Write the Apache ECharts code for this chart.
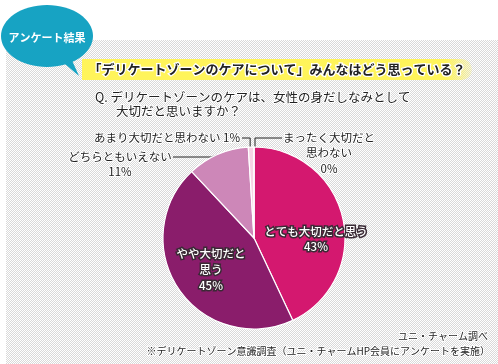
<!DOCTYPE html>
<html><head><meta charset="utf-8">
<script src="https://cdn.jsdelivr.net/npm/echarts@6/dist/echarts.min.js"></script>
<style>
html,body{margin:0;padding:0;background:#fff;}
#wrap{position:relative;width:498px;height:364px;}
#panel{position:absolute;left:6px;top:40px;right:0;bottom:0;
 background:repeating-conic-gradient(#d9d9d9 0 25%,#ffffff 0 50%);background-size:2px 2px;}
#chart{position:absolute;left:0;top:0;width:498px;height:364px;}
</style></head>
<body><div id="wrap"><div id="panel"></div><div id="chart"></div></div>
<script>
const categories = ['とても大切だと思う','やや大切だと思う','どちらともいえない','あまり大切だと思わない','まったく大切だと思わない'];
const values = [43, 45, 11, 1, 0];
const labelTexts = ['とても大切だと思う\n43%','やや大切だと\n思う\n45%','どちらともいえない\n11%','あまり大切だと思わない 1%','まったく大切だと\n思わない\n0%'];
const colors = ['#d4186f','#8a1d6b','#cd87b8','#f6d3e4','#ffffff'];
const titleText = '「デリケートゾーンのケアについて」みんなはどう思っている？';
const qLine1 = 'Q. デリケートゾーンのケアは、女性の身だしなみとして';
const qLine2 = '大切だと思いますか？';
const badgeText = 'アンケート結果';
const source1 = 'ユニ・チャーム調べ';
const source2 = '※デリケートゾーン意識調査（ユニ・チャームHP会員にアンケートを実施）';

const FONT = '"Noto Sans CJK JP", "Noto Sans", sans-serif';
const chart = echarts.init(document.getElementById('chart'), null, {renderer:'canvas'});

const place = [
  {x:316, y:224.5, align:'center', lh:15},
  {x:211, y:246, align:'center', lh:16},
  {x:120, y:149.5, align:'center', lh:15},
  {x:240, y:130, align:'right', lh:15},
  {x:329, y:129.5, align:'center', lh:15.5}
];

const data = categories.map((c,i)=>{
  const inside = i < 2;
  return {
    name: c, value: values[i],
    itemStyle: {color: colors[i]},
    label: inside ? {
      position:'inside', color:'#fff', fontSize:11.5, fontWeight:500,
      textBorderColor:'#3a2a35', textBorderWidth:3, lineHeight:place[i].lh
    } : {
      position:'outside', color:'#222', fontSize:11.5, lineHeight:place[i].lh,
      textBorderColor:'#fff', textBorderWidth:2
    },
    labelLine: inside ? {show:false} : {show:true, lineStyle:{color:'#222', width:1}}
  };
});

chart.setOption({
  backgroundColor:'transparent',
  animation:false,
  textStyle:{fontFamily:FONT},
  graphic:[
    {type:'rect', shape:{x:82, y:59, width:390, height:21, r:[0,12,12,0]},
     style:{fill:new echarts.graphic.LinearGradient(0,0,1,0,[
       {offset:0,color:'#fff45a'},{offset:0.93,color:'#fff45a'},{offset:1,color:'rgba(255,244,90,0.2)'}])}, z:1},
    {type:'text', x:277, y:69.5, style:{text:titleText, fill:'#222', font:'bold 13px '+FONT,
      textAlign:'center', textVerticalAlign:'middle', stroke:'#fff', lineWidth:2.5}, z:2},
    {type:'polygon', shape:{points:[[58,58],[79,76],[70,56]]}, style:{fill:'#17a3c3'}, z:3},
    {type:'ellipse', shape:{cx:47, cy:36, rx:46, ry:31}, style:{fill:'#17a3c3'}, z:3},
    {type:'text', x:47, y:38, style:{text:badgeText, fill:'#fff', font:'bold 11px '+FONT,
      textAlign:'center', textVerticalAlign:'middle'}, z:4},
    {type:'text', x:95, y:97, style:{text:qLine1, fill:'#222', font:'12.5px '+FONT,
      textVerticalAlign:'middle', stroke:'#fff', lineWidth:2}, z:2},
    {type:'text', x:116, y:111.5, style:{text:qLine2, fill:'#222', font:'12.5px '+FONT,
      textVerticalAlign:'middle', stroke:'#fff', lineWidth:2}, z:2},
    {type:'text', x:488, y:336, style:{text:source1, fill:'#222', font:'10px '+FONT,
      textAlign:'right', textVerticalAlign:'middle', stroke:'#fff', lineWidth:2}, z:2},
    {type:'text', x:490, y:351, style:{text:source2, fill:'#222', font:'10px '+FONT,
      textAlign:'right', textVerticalAlign:'middle', stroke:'#fff', lineWidth:2}, z:2}
  ],
  series:[{
    type:'pie',
    center:[254,238],
    radius:[0,91],
    startAngle:90,
    clockwise:true,
    avoidLabelOverlap:false,
    itemStyle:{borderColor:'#fff', borderWidth:1.2},
    label:{show:true, fontFamily:FONT, formatter:(p)=>labelTexts[p.dataIndex]},
    labelLine:{show:true, length:8, length2:10},
    labelLayout:function(params){
      const i = params.dataIndex;
      const pl = place[i];
      const res = {x:pl.x, y:pl.y, align:pl.align, verticalAlign:'top'};
      const pts = params.labelLinePoints;
      if (pts && pts[0]) {
        const p0 = pts[0];
        if (i === 2) res.labelLinePoints = [[p0[0],p0[1]],[p0[0]-6,157],[173,157]];
        if (i === 3) res.labelLinePoints = [[p0[0]-1,p0[1]],[p0[0]-1,138],[242,138]];
        if (i === 4) res.labelLinePoints = [[p0[0]+1,p0[1]],[p0[0]+1,138],[282,138]];
      }
      return res;
    },
    data:data
  }]
});
</script></body></html>
